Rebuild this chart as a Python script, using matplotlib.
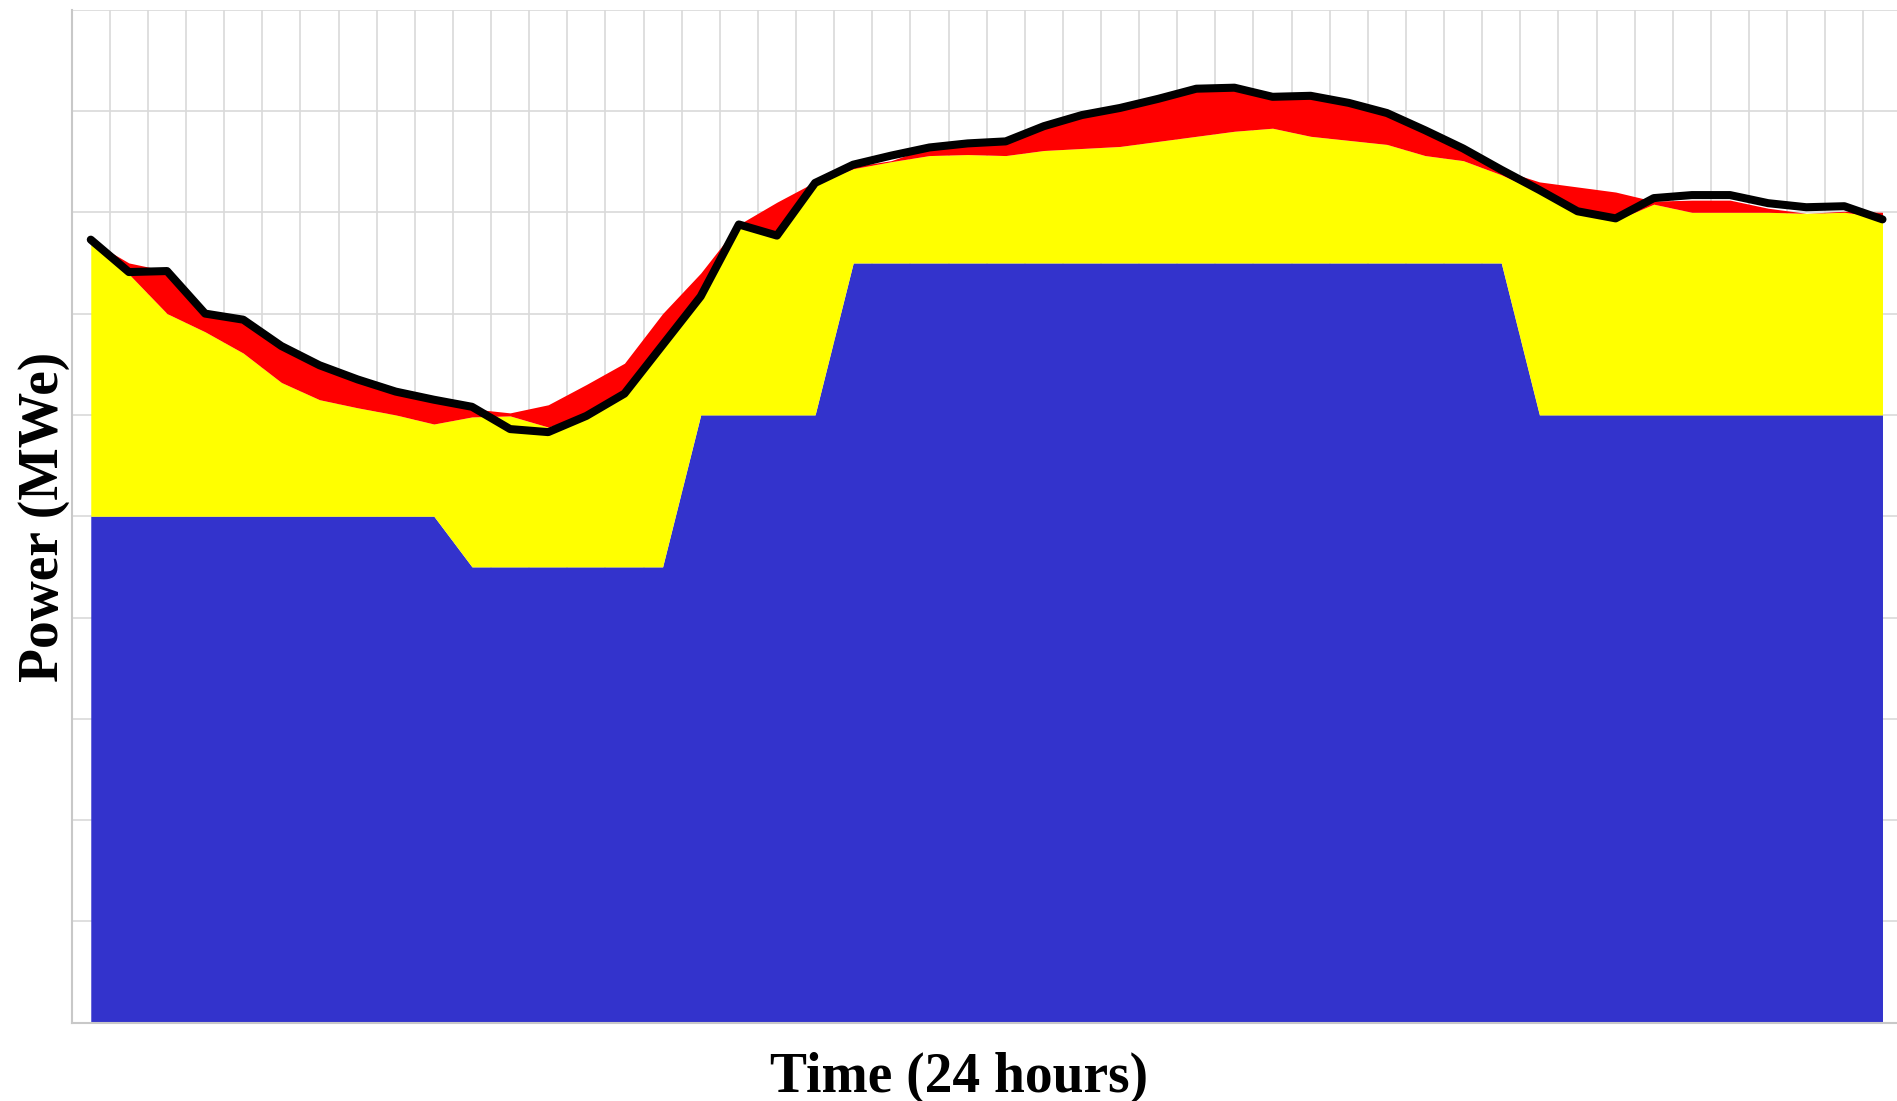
import matplotlib
matplotlib.use('Agg')
import matplotlib.pyplot as plt
import numpy as np

# half-hour slots over 24 hours (48 points), values in MWe-like units
slots = np.arange(48)

base_load = [500] * 10 + [450] * 6 + [600] * 4 + [750] * 18 + [600] * 10

yellow_top = [770, 739, 700, 682, 661, 632, 615, 607, 600, 591,
              598, 599, 588, 600, 621, 668, 714, 787, 777, 828,
              843, 850, 856, 857, 856, 861, 863, 865, 870, 875,
              880, 883, 875, 871, 867, 856, 851, 837, 820, 799,
              792, 808, 800, 800, 800, 799, 800, 795]

red_top = [772, 750, 742, 700, 694, 668, 649, 635, 623, 615,
           606, 602, 610, 630, 651, 700, 740, 788, 810, 830,
           845, 851, 864, 868, 870, 884, 896, 903, 912, 922,
           923, 914, 915, 907, 898, 881, 863, 842, 830, 825,
           820, 811, 812, 812, 804, 799, 801, 800]

demand = [773, 741, 742, 700, 694, 668, 649, 635, 623, 615,
          608, 586, 583, 599, 621, 669, 717, 788, 777, 829,
          847, 856, 864, 868, 870, 885, 896, 903, 912, 922,
          923, 914, 915, 908, 898, 881, 863, 842, 822, 801,
          794, 814, 817, 817, 809, 805, 806, 793]


def plot_daily_load():
    fig = plt.figure(figsize=(18.97, 11.01), dpi=100)
    # axes runs a little past the right edge of the figure, as in the original
    ax = fig.add_axes([0.0378, 0.0711, 0.9646, 0.9201])

    x = slots + 0.5
    ax.fill_between(x, 0, base_load, color='#3333cc', linewidth=0)
    ax.fill_between(x, base_load, yellow_top, color='#ffff00', linewidth=0)
    ax.fill_between(x, yellow_top, red_top, color='#ff0000', linewidth=0)
    ax.plot(x, demand, color='black', linewidth=5.8, solid_capstyle='round')

    ax.set_xlim(0, 48)
    ax.set_ylim(0, 1000)
    ax.set_xticks(np.arange(0, 49))
    ax.set_yticks(np.arange(0, 1001, 100))
    ax.tick_params(length=0, labelleft=False, labelbottom=False)
    ax.set_axisbelow(True)
    ax.grid(True, color='#d9d9d9', linewidth=1.2)

    for side in ['top', 'right']:
        ax.spines[side].set_visible(False)
    for side in ['left', 'bottom']:
        ax.spines[side].set_color('#c8c8c8')
        ax.spines[side].set_linewidth(1.5)

    fig.text(959 / 1897, 1 - 1092 / 1101, 'Time (24 hours)', ha='center',
             va='baseline', fontsize=40, fontweight='bold',
             family='Liberation Serif')
    fig.text(58 / 1897, 1 - 516.5 / 1101, 'Power (MWe)', ha='center',
             va='baseline', rotation=90, rotation_mode='anchor',
             fontsize=40, fontweight='bold', family='Liberation Serif')

    plt.savefig('out.png', dpi=100)
    plt.close()


if __name__ == '__main__':
    plot_daily_load()
